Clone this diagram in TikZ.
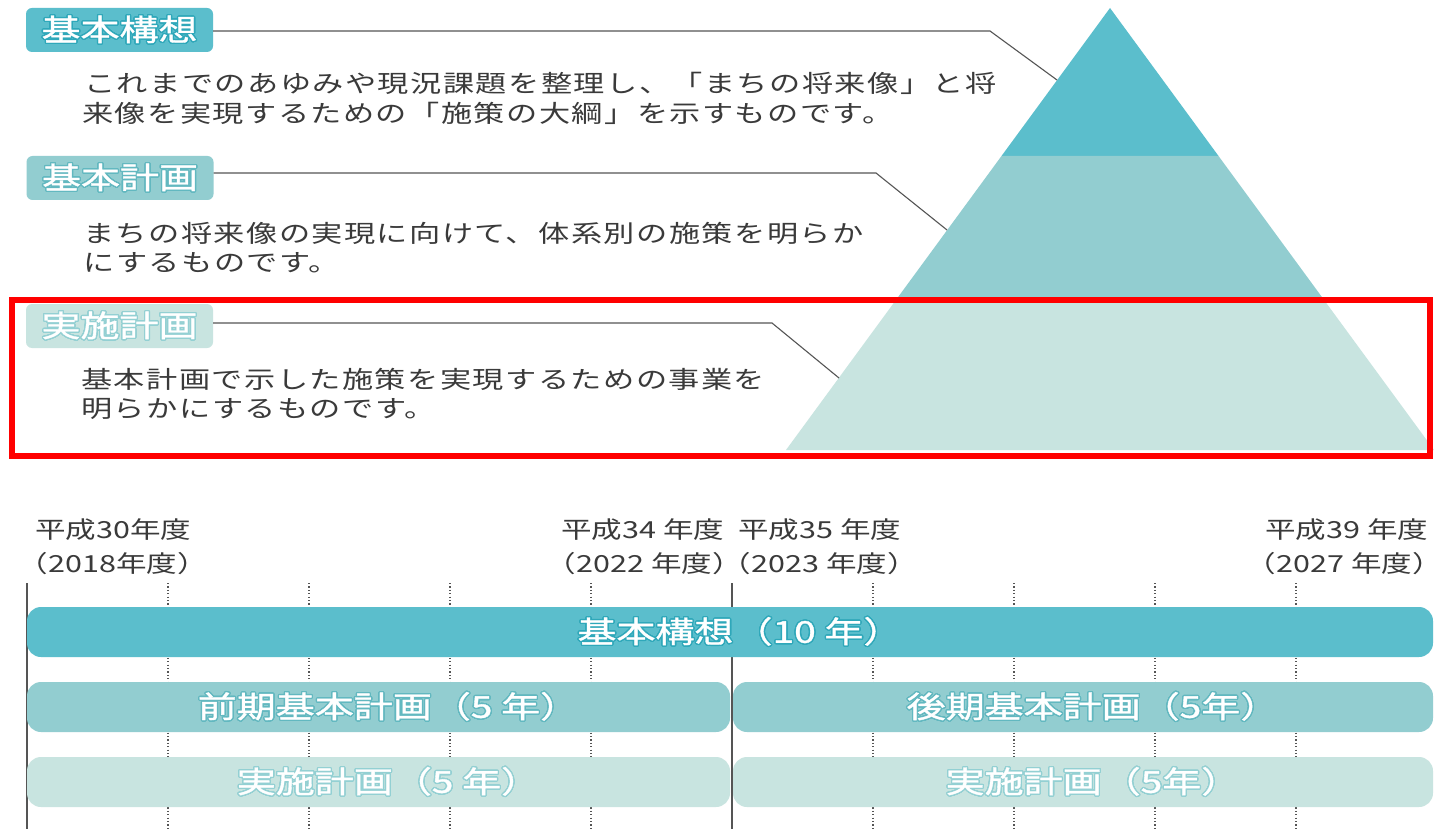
\documentclass[tikz,border=0pt]{standalone}
\usepackage{fontspec}
\usepackage{xcolor}
\usepackage{contour}
\newfontfamily\jp{Noto Sans CJK JP}[FakeStretch=1.3]
\newfontfamily\jph{Noto Sans CJK JP}[FakeStretch=1.3,RawFeature={+halt}]
\newfontfamily\jpl{Noto Sans CJK JP}[FakeStretch=1.3,FakeBold=1.2]
\newfontfamily\jpbody{Noto Sans CJK JP}[FakeStretch=1.3,LetterSpace=6]
\definecolor{cA}{HTML}{5BBECC}
\definecolor{cB}{HTML}{92CDD0}
\definecolor{cC}{HTML}{C8E4E0}
\definecolor{oA}{HTML}{2FA8BA}
\definecolor{oB}{HTML}{62B8C0}
\definecolor{oC}{HTML}{93D0D3}
\definecolor{txt}{HTML}{3A3A3A}
\definecolor{leadc}{HTML}{555555}
\contourlength{1.3pt}
\contournumber{24}
\tikzset{
  lab/.style={rounded corners=6pt, minimum width=187pt, minimum height=44pt, inner sep=0pt, text=white, font=\jpl\fontsize{30}{30}\selectfont},
  bodytxt/.style={anchor=west, inner sep=0pt, text=txt, font=\jpbody\fontsize{24}{24}\selectfont},
  yr/.style={anchor=west, inner sep=0pt, text=txt, font=\jph\fontsize{23.5}{23.5}\selectfont},
  barbox/.style={rounded corners=14pt, minimum height=50pt, inner sep=0pt},
  barlab/.style={inner sep=0pt, text=white, font=\jpl\fontsize{30}{30}\selectfont},
  leadline/.style={draw=leadc, line width=1.1pt},
  dotline/.style={draw=leadc, line width=1.2pt, dash pattern=on 1.2pt off 2.2pt},
  axisline/.style={draw=leadc, line width=2pt}
}
\begin{document}
\begin{tikzpicture}[x=1pt,y=-1pt]
\useasboundingbox (0,0) rectangle (1434,829);
\fill[white] (0,0) rectangle (1434,829);
% pyramid
\fill[cA] (1110,8) -- (1218.5,156) -- (1001.5,156) -- cycle;
\fill[cB] (1001.5,156) -- (1218.5,156) -- (1322.6,298) -- (897.4,298) -- cycle;
\fill[cC] (897.4,298) -- (1322.6,298) -- (1434,450) -- (786,450) -- cycle;
% labels
\node[lab, fill=cA] (l1) at (119.5,30) {\contour{oA}{基本構想}};
\node[lab, fill=cB] (l2) at (120,178) {\contour{oB}{基本計画}};
\node[lab, fill=cC] (l3) at (119.5,326) {\contour{oC}{実施計画}};
% leader lines
\coordinate (k1) at (990,31);  \coordinate (e1) at (1057,80);
\coordinate (k2) at (876,173); \coordinate (e2) at (947,230);
\coordinate (k3) at (772,323); \coordinate (e3) at (839,378);
\draw[leadline] (l1.east |- k1) -- (k1) -- (e1);
\draw[leadline] (l2.east |- k2) -- (k2) -- (e2);
\draw[leadline] (l3.east |- k3) -- (k3) -- (e3);
% body texts
\node[bodytxt] (t1a) at (84,83) {これまでのあゆみや現況課題を整理し、「まちの将来像」と将};
\node[bodytxt] (t1b) at (82,113) {来像を実現するための「施策の大綱」を示すものです。};
\node[bodytxt] (t2a) at (83,233) {まちの将来像の実現に向けて、体系別の施策を明らか};
\node[bodytxt] (t2b) at (83,263) {にするものです。};
\node[bodytxt] (t3a) at (81,379) {基本計画で示した施策を実現するための事業を};
\node[bodytxt] (t3b) at (81,409) {明らかにするものです。};
% red frame
\draw[red, line width=6pt] (12,300) rectangle (1430,456);
% year labels
\node[yr] (y1a) at (35,530) {平成30年度};
\node[yr] (y1b) at (33,564) {（2018年度）};
\node[yr] (y2a) at (561,530) {平成34 年度};
\node[yr] (y2b) at (561,564) {（2022 年度）};
\node[yr] (y3a) at (738,530) {平成35 年度};
\node[yr] (y3b) at (736,564) {（2023 年度）};
\node[yr] (y4a) at (1265,530) {平成39 年度};
\node[yr] (y4b) at (1261,564) {（2027 年度）};
% grid
\foreach \x in {168,309,450,591,873,1014,1155,1296} \draw[dotline] (\x,583) -- (\x,829);
\draw[axisline] (27,583) -- (27,829);
\draw[axisline] (732,583) -- (732,829);
% bars
\node[barbox, fill=cA, minimum width=1406pt] (b1) at (730,632) {};
\node[barbox, fill=cB, minimum width=703pt] (b2l) at (378.5,707) {};
\node[barbox, fill=cB, minimum width=700pt] (b2r) at (1083,707) {};
\node[barbox, fill=cC, minimum width=703pt] (b3l) at (378.5,782) {};
\node[barbox, fill=cC, minimum width=700pt] (b3r) at (1083,782) {};
\node[barlab, xshift=10pt] (bl1) at (b1) {\contour{oA}{基本構想（10 年）}};
\node[barlab, xshift=10pt] (bl2l) at (b2l) {\contour{oB}{前期基本計画（5 年）}};
\node[barlab, xshift=10pt] (bl2r) at (b2r) {\contour{oB}{後期基本計画（5年）}};
\node[barlab, xshift=10pt] (bl3l) at (b3l) {\contour{oC}{実施計画（5 年）}};
\node[barlab, xshift=10pt] (bl3r) at (b3r) {\contour{oC}{実施計画（5年）}};
\end{tikzpicture}
\end{document}
